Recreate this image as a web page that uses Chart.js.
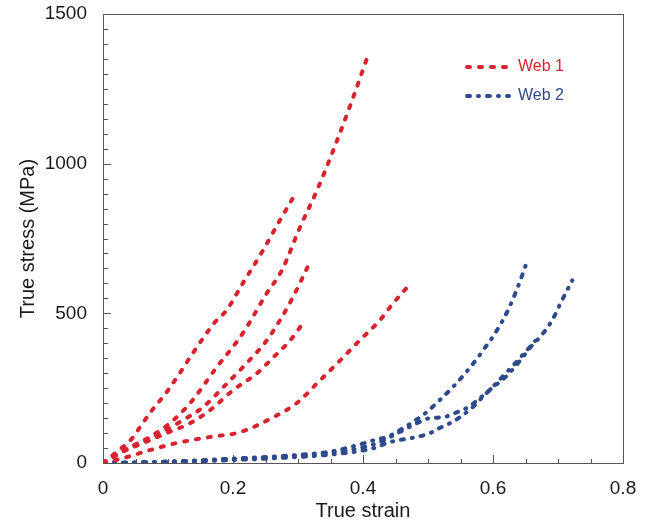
<!DOCTYPE html>
<html>
<head>
<meta charset="utf-8">
<script src="https://cdn.jsdelivr.net/npm/chart.js@4"></script>
<style>
  html, body { margin: 0; padding: 0; background: #fff; }
  #wrap { width: 655px; height: 527px; }
</style>
</head>
<body>
<div id="wrap"><canvas id="stressStrain"></canvas></div>
<script>
// Web 1 specimens (true strain, true stress MPa)
const w1aStrain = [0, 0.02, 0.045, 0.057, 0.075, 0.098, 0.115, 0.134, 0.155, 0.172, 0.19, 0.215, 0.246, 0.272, 0.297];
const w1aStress = [0, 35, 83, 120, 175, 237, 290, 353, 420, 470, 510, 600, 710, 810, 903];
const w1bStrain = [0, 0.02, 0.042, 0.072, 0.103, 0.134, 0.175, 0.215, 0.252, 0.275, 0.303, 0.331, 0.357, 0.383, 0.409];
const w1bStress = [0, 25, 53, 87, 133, 200, 320, 433, 567, 643, 787, 920, 1060, 1210, 1370];
const w1cStrain = [0, 0.026, 0.057, 0.088, 0.123, 0.154, 0.185, 0.215, 0.252, 0.275, 0.292, 0.316];
const w1cStress = [0, 37, 67, 100, 143, 187, 253, 320, 410, 487, 553, 660];
const w1dStrain = [0, 0.026, 0.062, 0.098, 0.134, 0.165, 0.2, 0.237, 0.262, 0.288, 0.311];
const w1dStress = [0, 33, 67, 100, 133, 177, 243, 300, 353, 410, 477];
const w1eStrain = [0, 0.037, 0.072, 0.114, 0.165, 0.211, 0.262, 0.298, 0.331, 0.365, 0.395, 0.426, 0.445, 0.468];
const w1eStress = [0, 20, 43, 67, 87, 103, 153, 200, 270, 343, 410, 477, 530, 587];

// Web 2 specimens
const w2aStrain = [0, 0.05, 0.1, 0.15, 0.2, 0.25, 0.3, 0.35, 0.4, 0.42, 0.437, 0.457, 0.477, 0.498, 0.518, 0.538, 0.565, 0.585, 0.606, 0.623, 0.638, 0.652];
const w2aStress = [0, 2, 5, 9, 15, 20, 27, 38, 65, 78, 87, 110, 137, 170, 210, 253, 320, 377, 443, 510, 587, 670];
const w2bStrain = [0, 0.1, 0.2, 0.3, 0.35, 0.4, 0.42, 0.442, 0.462, 0.483, 0.503, 0.523, 0.545, 0.562, 0.58, 0.6, 0.622, 0.642, 0.66, 0.672, 0.691, 0.706, 0.722];
const w2bStress = [0, 4, 13, 25, 35, 52, 65, 87, 110, 133, 150, 153, 170, 187, 217, 253, 293, 343, 393, 420, 477, 543, 610];
const w2cStrain = [0, 0.1, 0.2, 0.3, 0.35, 0.4, 0.42, 0.437, 0.457, 0.483, 0.503, 0.518, 0.534, 0.549, 0.569, 0.585, 0.603, 0.622, 0.642, 0.665];
const w2cStress = [0, 3, 10, 20, 28, 42, 52, 67, 77, 87, 100, 117, 133, 153, 187, 222, 262, 305, 352, 408];

const legendLabels = ['Web 1', 'Web 2'];
const xTicks = [0, 0.2, 0.4, 0.6, 0.8];
const yTicks = [0, 500, 1000, 1500];

const RED = '#d8232f';
const BLUE = '#2d4a8c';
const DASH1 = [3, 9];
const DASH2 = [3, 8, 1, 8];
const FONT = '"Liberation Sans", Arial, sans-serif';

function pts(xs, ys) {
  return xs.map((x, i) => ({ x: x, y: ys[i] }));
}

function curve(xs, ys, color, dash) {
  return {
    data: pts(xs, ys),
    borderColor: color,
    borderWidth: 4,
    borderDash: dash,
    borderCapStyle: 'round',
    showLine: true,
    pointRadius: 0,
    cubicInterpolationMode: 'monotone',
    fill: false,
  };
}

const datasets = [
  curve(w1aStrain, w1aStress, RED, DASH1),
  curve(w1bStrain, w1bStress, RED, DASH1),
  curve(w1cStrain, w1cStress, RED, DASH1),
  curve(w1dStrain, w1dStress, RED, DASH1),
  curve(w1eStrain, w1eStress, RED, DASH1),
  curve(w2aStrain, w2aStress, BLUE, DASH2),
  curve(w2bStrain, w2bStress, BLUE, DASH2),
  curve(w2cStrain, w2cStress, BLUE, DASH2),
];

// box around the plot, inward ticks and the little legend
const framePlugin = {
  id: 'frame',
  beforeDatasetsDraw(chart) {
    const { ctx, chartArea: a, scales } = chart;
    ctx.save();
    ctx.strokeStyle = '#555';
    ctx.lineWidth = 1;
    ctx.strokeRect(Math.round(a.left) + 0.5, Math.round(a.top) + 0.5,
      Math.round(a.right - a.left), Math.round(a.bottom - a.top));
    ctx.beginPath();
    for (let v = 0; v <= 1500; v += 50) {
      const y = Math.round(scales.y.getPixelForValue(v)) + 0.5;
      const len = v % 500 === 0 ? 8 : 5;
      ctx.moveTo(a.left, y);
      ctx.lineTo(a.left + len, y);
    }
    for (let k = 0; k <= 16; k++) {
      const x = Math.round(scales.x.getPixelForValue(k * 0.05)) + 0.5;
      const len = k % 4 === 0 ? 8 : 4;
      ctx.moveTo(x, a.bottom);
      ctx.lineTo(x, a.bottom - len);
    }
    ctx.stroke();
    ctx.restore();
  },
  afterDraw(chart) {
    const { ctx, chartArea: a } = chart;
    const items = [
      { text: legendLabels[0], color: RED, dash: DASH1 },
      { text: legendLabels[1], color: BLUE, dash: DASH2 },
    ];
    ctx.save();
    ctx.font = '16px ' + FONT;
    ctx.textBaseline = 'middle';
    items.forEach((it, i) => {
      const y = a.top + 53 + i * 29;
      const x0 = a.right - 156;
      ctx.strokeStyle = it.color;
      ctx.lineWidth = 4;
      ctx.lineCap = 'round';
      ctx.setLineDash(it.dash);
      ctx.beginPath();
      ctx.moveTo(x0, y);
      ctx.lineTo(x0 + 42, y);
      ctx.stroke();
      ctx.setLineDash([]);
      ctx.fillStyle = it.color;
      ctx.fillText(it.text, x0 + 51, y);
    });
    ctx.restore();
  }
};

new Chart(document.getElementById('stressStrain').getContext('2d'), {
  type: 'scatter',
  data: { datasets: datasets },
  options: {
    animation: false,
    responsive: true,
    maintainAspectRatio: false,
    layout: { padding: { top: 14, right: 32, left: 0, bottom: 0 } },
    plugins: {
      legend: { display: false },
      tooltip: { enabled: false },
    },
    scales: {
      x: {
        type: 'linear',
        min: 0,
        max: 0.8,
        afterFit: (s) => { s.height = 64; s.paddingLeft = 0; s.paddingRight = 0; },
        afterBuildTicks: (s) => { s.ticks = xTicks.map(v => ({ value: v })); },
        ticks: {
          padding: 6,
          color: '#1a1a1a',
          font: { family: FONT, size: 19 },
          callback: (v) => String(v),
        },
        grid: { display: false },
        border: { display: false },
        title: {
          display: true,
          text: 'True strain',
          color: '#1a1a1a',
          font: { family: FONT, size: 20 },
          padding: { top: 0, bottom: 4 },
        },
      },
      y: {
        type: 'linear',
        min: 0,
        max: 1500,
        afterFit: (s) => { s.width = 103; s.paddingTop = 0; s.paddingBottom = 0; },
        afterBuildTicks: (s) => { s.ticks = yTicks.map(v => ({ value: v })); },
        ticks: {
          padding: 8,
          color: '#1a1a1a',
          font: { family: FONT, size: 19 },
          callback: (v) => String(v),
        },
        grid: { display: false },
        border: { display: false },
        title: {
          display: true,
          text: 'True stress (MPa)',
          color: '#1a1a1a',
          font: { family: FONT, size: 20 },
          padding: { top: 16, bottom: 0 },
        },
      },
    },
  },
  plugins: [framePlugin],
});
</script>
</body>
</html>
